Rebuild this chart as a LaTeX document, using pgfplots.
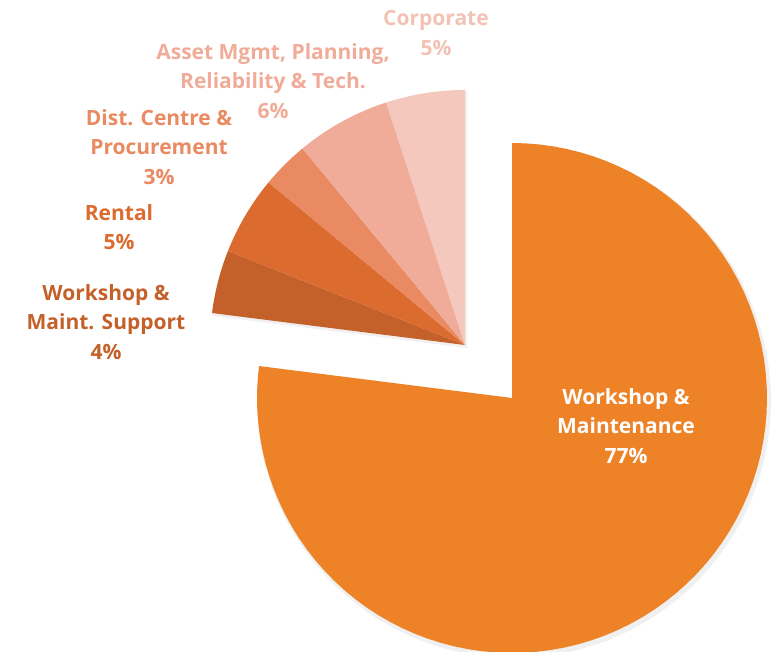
\documentclass[border=0pt]{standalone}
\usepackage{fontspec}
\setmainfont{Open Sans}
\usepackage{pgfplots}
\usepackage{pgfplotstable}
\pgfplotsset{compat=1.18}
\definecolor{cWM}{HTML}{EE8227}
\definecolor{cWMS}{HTML}{C4602A}
\definecolor{cRen}{HTML}{DC6B2F}
\definecolor{cDist}{HTML}{E98A62}
\definecolor{cAsset}{HTML}{F0AC98}
\definecolor{cCorp}{HTML}{F4C8BC}
\definecolor{tCorp}{HTML}{F2C2B4}
\pgfplotstableread{
label pct
WM 77
WMS 4
Rental 5
Dist 3
Asset 6
Corp 5
}\piedata
\pgfplotstablegetelem{0}{pct}\of\piedata \let\pA\pgfplotsretval
\pgfplotstablegetelem{1}{pct}\of\piedata \let\pB\pgfplotsretval
\pgfplotstablegetelem{2}{pct}\of\piedata \let\pC\pgfplotsretval
\pgfplotstablegetelem{3}{pct}\of\piedata \let\pD\pgfplotsretval
\pgfplotstablegetelem{4}{pct}\of\piedata \let\pE\pgfplotsretval
\pgfplotstablegetelem{5}{pct}\of\piedata \let\pF\pgfplotsretval
\pgfmathsetmacro\aA{90-3.6*\pA}
\pgfmathsetmacro\aB{\aA+360-3.6*\pB}
\pgfmathsetmacro\aBs{\aA+360}
\pgfmathsetmacro\aC{\aB-3.6*\pC}
\pgfmathsetmacro\aD{\aC-3.6*\pD}
\pgfmathsetmacro\aE{\aD-3.6*\pE}
\pgfmathsetmacro\aF{\aE-3.6*\pF}
% #1 start, #2 end, #3 cx, #4 cy, #5 colour
\newcommand\slice[5]{%
  \addplot[fill=#5, draw=none, domain=#1:#2, samples=90, variable=\t]
    ({#3+255*cos(\t)},{#4+255*sin(\t)}) -- (axis cs:#3,#4) -- cycle;
}
\newcommand\shadow[5]{%
  \addplot[fill=black, fill opacity=0.06, draw=none, domain=#1:#2, samples=90, variable=\t]
    ({#3+2+257*cos(\t)},{#4-3+257*sin(\t)}) -- (axis cs:#3+2,#4-3) -- cycle;
}
\begin{document}
\begin{tikzpicture}
\begin{axis}[
  width=774pt, height=652pt, scale only axis,
  xmin=0, xmax=774, ymin=0, ymax=652,
  axis lines=none, ticks=none,
]
\path (axis cs:0,0) rectangle (axis cs:774,652);
\shadow{\aA}{90}{512}{254}{}
\shadow{\aF}{\aBs}{465}{307}{}
\slice{\aA}{90}{512}{254}{cWM}
\slice{\aB}{\aBs}{465}{307}{cWMS}
\slice{\aC}{\aB}{465}{307}{cRen}
\slice{\aD}{\aC}{465}{307}{cDist}
\slice{\aE}{\aD}{465}{307}{cAsset}
\slice{\aF}{\aE}{465}{307}{cCorp}
\begin{scope}[every node/.style={align=center, font=\fontsize{21}{29.5}\selectfont\bfseries}]
\node[text=white] at (axis cs:626,226) {Workshop \&\\Maintenance\\77\%};
\node[text=cWMS] at (axis cs:106,330) {Workshop \&\\Maint. Support\\4\%};
\node[text=cRen] at (axis cs:119,425) {Rental\\5\%};
\node[text=cDist] at (axis cs:159,505) {Dist. Centre \&\\Procurement\\3\%};
\node[text=cAsset] at (axis cs:273,571) {Asset Mgmt, Planning,\\Reliability \& Tech.\\6\%};
\node[text=tCorp] at (axis cs:436,619) {Corporate\\5\%};
\end{scope}
\end{axis}
\end{tikzpicture}
\end{document}
